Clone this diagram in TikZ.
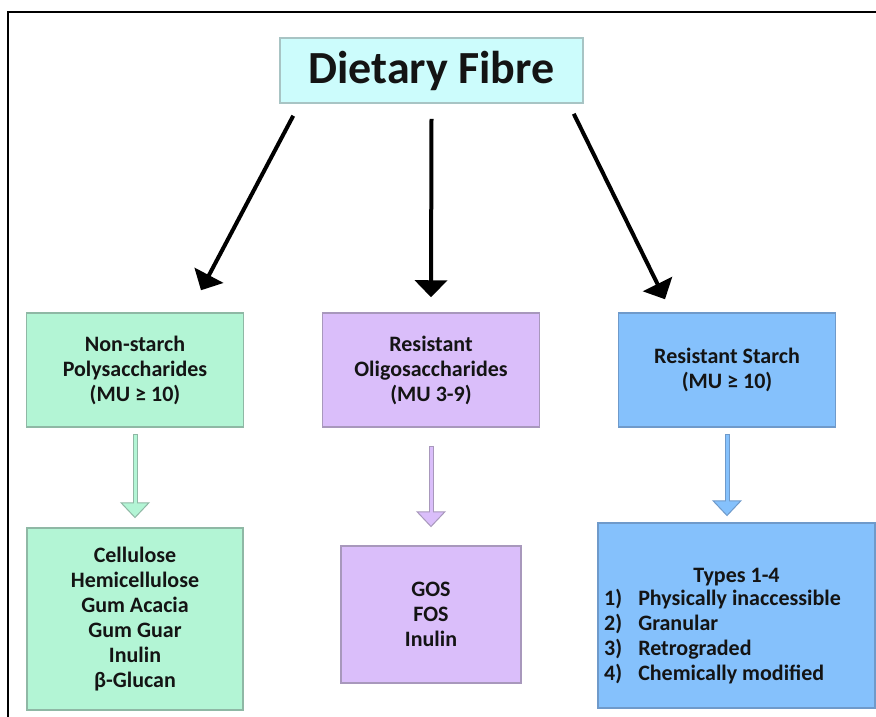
\documentclass[tikz,border=0pt]{standalone}
\usepackage{fontspec}
\setmainfont{Carlito}
\usepackage{tikz}
\usetikzlibrary{arrows.meta,calc}
\definecolor{TitleFill}{HTML}{CCFCFC}
\definecolor{TitleLine}{HTML}{A8C4C4}
\definecolor{NSPFill}{HTML}{B3F5D5}
\definecolor{NSPLine}{HTML}{8FB8A5}
\definecolor{ROSFill}{HTML}{DABEFA}
\definecolor{ROSLine}{HTML}{A898BC}
\definecolor{RSFill}{HTML}{85C1FC}
\definecolor{RSLine}{HTML}{6F9ACA}
\colorlet{Ink}{black!92}

\begin{document}
\begin{tikzpicture}[
    x=1pt, y=-1pt,
    box/.style 2 args={draw=#1, fill=#2, line width=1.5pt, rectangle, align=center,
      inner sep=0pt, text=Ink, font={\bfseries\fontsize{22}{25}\selectfont}},
    titlebox/.style={box={TitleLine}{TitleFill}, minimum width=303pt, minimum height=65pt,
      font={\bfseries\fontsize{46}{55}\selectfont}},
    classbox/.style={minimum width=217pt, minimum height=114pt},
    bigarrow/.style={draw=black, line width=4pt, -{Triangle[length=17pt,width=32pt]}},
    hollow/.style 2 args={draw=#1, line width=5pt,
      -{Triangle[length=16pt,width=30pt,fill=#2,line width=1pt]},
      postaction={draw=#2, line width=3pt, arrows=-, shorten >=14pt, shorten <=1pt}}
  ]
  \useasboundingbox (0,0) rectangle (876,716);
  \clip (0,0) rectangle (876,716);
  \draw[line width=2pt] (8,740) |- (900,12);

  \node[titlebox] (title) at (431.5,70.5) {Dietary Fibre};

  % classes
  \node[box={NSPLine}{NSPFill}, classbox] (nsp) at (135,370)
    {Non-starch\\Polysaccharides\\(MU ≥ 10)};
  \node[box={ROSLine}{ROSFill}, classbox] (ros) at (431,370)
    {Resistant\\Oligosaccharides\\(MU 3-9)};
  \node[box={RSLine}{RSFill}, classbox] (rs) at (727,370)
    {Resistant Starch\\(MU ≥ 10)};

  % examples
  \node[box={NSPLine}{NSPFill}, minimum width=216pt, minimum height=182pt] (nspex) at (135,619)
    {Cellulose\\Hemicellulose\\Gum Acacia\\Gum Guar\\Inulin\\β-Glucan};
  \node[box={ROSLine}{ROSFill}, minimum width=180pt, minimum height=137pt] (rosex) at (431,614.5)
    {GOS\\FOS\\Inulin};
  \node[box={RSLine}{RSFill}, minimum width=277pt, minimum height=185pt] (rsex) at (736.5,615.5)
    {\rule{0pt}{40pt}Types 1-4\\[-2pt]
     \begin{tabular}[t]{@{}l@{\hspace{16pt}}l@{}}
       1) & Physically inaccessible\\
       2) & Granular\\
       3) & Retrograded\\
       4) & Chemically modified
     \end{tabular}\kern28pt};

  \draw[bigarrow] ($(title.south west)+(14,12)$) -- ($(nsp.north)+(66,-22)$);
  \draw[bigarrow] ($(title.south)+(0,15)$) -- ($(ros.north)+(0,-15)$);
  \draw[bigarrow] ($(title.south east)+(-10,10)$) -- ($(rs.north)+(-62,-13)$);

  \draw[hollow={NSPLine}{NSPFill}] ($(nsp.south)+(0,6)$) -- ($(nspex.north)+(0,-9)$);
  \draw[hollow={ROSLine}{ROSFill}] ($(ros.south)+(0,18)$) -- ($(rosex.north)+(0,-18)$);
  \draw[hollow={RSLine}{RSFill}] ($(rs.south)+(0,6)$) -- ($(rs.south |- rsex.north)+(0,-6)$);
\end{tikzpicture}
\end{document}
